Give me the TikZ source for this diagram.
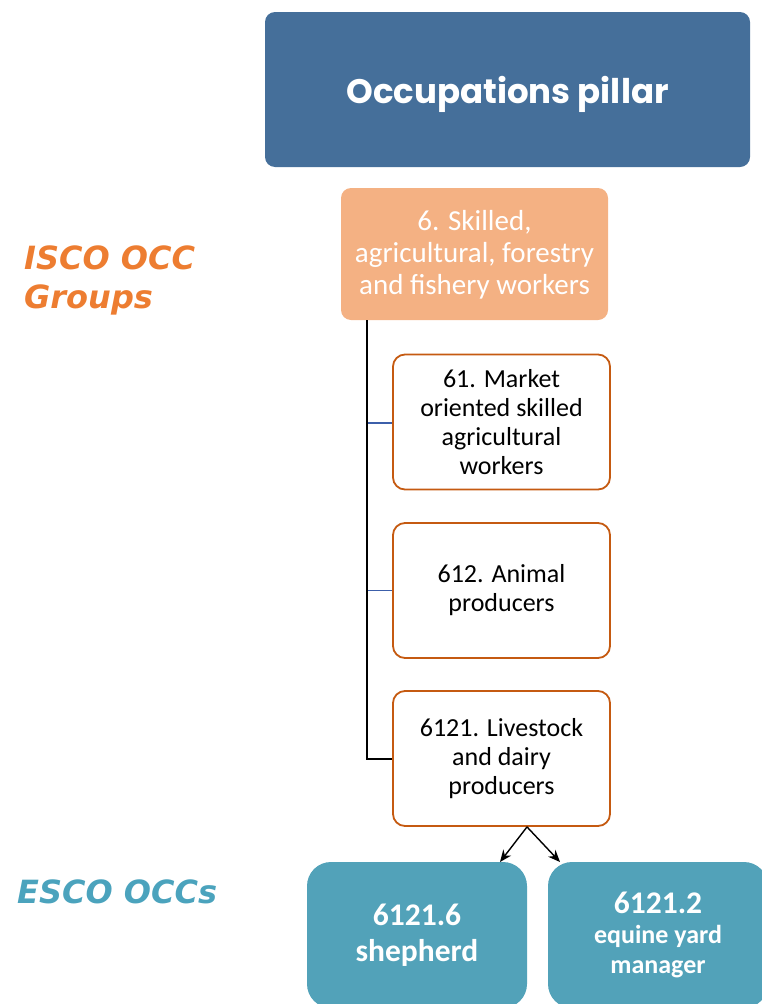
\documentclass[tikz,border=0pt]{standalone}
\usepackage{fontspec}
\setmainfont{Carlito}
\newfontfamily\pop{Poppins}
\newfontfamily\dv{DejaVu Sans}
\usetikzlibrary{arrows.meta}
\definecolor{pillar}{RGB}{69,111,154}
\definecolor{peach}{RGB}{244,177,131}
\definecolor{rust}{RGB}{197,90,17}
\definecolor{teal}{RGB}{82,162,185}
\definecolor{lblorange}{RGB}{237,125,49}
\definecolor{lblteal}{RGB}{75,163,189}
\definecolor{branch}{RGB}{60,95,170}
\tikzset{
  pillarbox/.style={fill=pillar, rounded corners=10pt, minimum width=485pt, minimum height=155pt, text=white, inner sep=0pt},
  groupbox/.style={fill=peach, rounded corners=10pt, minimum width=267pt, minimum height=132pt, text=white, inner sep=0pt, font=\fontsize{29}{32}\selectfont},
  subbox/.style={draw=rust, line width=1.8pt, fill=white, rounded corners=12pt, minimum width=217pt, minimum height=135pt, align=center, inner sep=0pt, font=\fontsize{26}{29}\selectfont},
  escobox/.style={fill=teal, rounded corners=24pt, minimum width=220pt, minimum height=146pt, text=white, align=center, inner sep=0pt},
  trunk/.style={line width=2pt, black},
  twig/.style={line width=1.6pt, branch},
  arr/.style={line width=1.4pt, -{Stealth[length=12pt,width=10pt]}},
  lbl/.style={font=\dv\bfseries\itshape\fontsize{32}{39}\selectfont, align=left, anchor=west, inner sep=0pt}
}
\begin{document}
\begin{tikzpicture}[x=1pt,y=1pt]
\useasboundingbox (0,0) rectangle (762,-1004);
\clip (0,0) rectangle (762,-1004);
\node[pillarbox] (pillar) at (507.5,-89.5) {\smash{\raisebox{-14pt}{\pop\bfseries\fontsize{34}{40}\selectfont Occupations pillar}}};
\node[groupbox] (g6) at (474.5,-254) {\smash{\raisebox{-8pt}{\begin{tabular}{@{}c@{}}6. Skilled,\\agricultural, forestry\\and fishery workers\end{tabular}}}};
\node[subbox] (g61) at (501.5,-422) {61. Market\\oriented skilled\\agricultural\\workers};
\node[subbox] (g612) at (501.5,-590.5) {612. Animal\\producers};
\node[subbox] (g6121) at (501.5,-758.5) {6121. Livestock\\and dairy\\producers};
\node[escobox, font=\bfseries\fontsize{31.5}{36}\selectfont] (shep) at (417,-935) {6121.6\\shepherd};
\node[escobox, font=\bfseries\fontsize{26}{30}\selectfont] (equine) at (658,-935) {\fontsize{31.5}{36}\selectfont 6121.2\\\fontsize{26}{30}\selectfont equine yard\\manager};
\node[lbl, text=lblorange] (isco) at (24,-280) {ISCO OCC\\Groups};
\node[lbl, text=lblteal] (esco) at (17,-892) {ESCO OCCs};
\coordinate (top) at (367,-320);
\coordinate (apex) at ([xshift=25.5pt]g6121.south);
\coordinate (tipL) at (500,-862);
\coordinate (tipR) at (560,-862);
\draw[twig] (367,-423) -- (g61.west |- 0,-423);
\draw[twig] (367,-590.5) -- (g612.west);
\draw[trunk] (top) -- (367,-758.5) -- (g6121.west);
\draw[arr] (apex) -- (tipL);
\draw[arr] (apex) -- (tipR);
\end{tikzpicture}
\end{document}
